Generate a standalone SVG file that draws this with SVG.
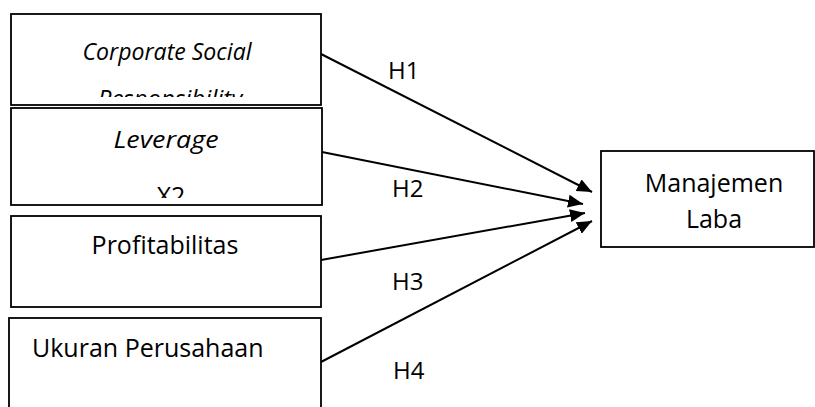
<svg xmlns="http://www.w3.org/2000/svg" width="815" height="407" viewBox="0 0 815 407">
  <style>
    .box { fill: #ffffff; stroke: #000000; stroke-width: 1.8; }
    .t { font-family: "Open Sans", "Noto Sans", sans-serif; font-size: 25px; fill: #000000; }
    .lbl { font-size: 24px; }
    .it { font-style: italic; font-size: 24px; }
    .mid { text-anchor: middle; }
    .conn { stroke: #000000; stroke-width: 2; fill: none; marker-end: url(#arrow); }
  </style>
  <defs>
    <marker id="arrow" markerUnits="userSpaceOnUse" markerWidth="16" markerHeight="14" refX="15" refY="6.5" orient="auto">
      <path d="M0,0 L15,6.5 L0,13 Z" fill="#000000"/>
    </marker>
    <clipPath id="clip1"><rect x="11" y="14" width="310" height="83"/></clipPath>
    <clipPath id="clip2"><rect x="11" y="108" width="311" height="90"/></clipPath>
  </defs>

  <rect width="815" height="407" fill="#ffffff"/>

  <g id="connectors">
    <line class="conn" x1="321" y1="54" x2="592" y2="192"/>
    <line class="conn" x1="322" y1="152" x2="583" y2="204"/>
    <line class="conn" x1="321" y1="260" x2="585" y2="213"/>
    <line class="conn" x1="321" y1="362" x2="592" y2="221"/>
    <text class="t lbl" x="388" y="79">H1</text>
    <text class="t lbl" x="392" y="197">H2</text>
    <text class="t lbl" x="392" y="290">H3</text>
    <text class="t lbl" x="393" y="379">H4</text>
  </g>

  <g id="csr">
    <rect class="box" x="11" y="14" width="310" height="91"/>
    <g clip-path="url(#clip1)">
      <text class="t it mid" x="167" y="60" textLength="169" lengthAdjust="spacingAndGlyphs">Corporate Social</text>
      <text class="t it mid" x="170" y="107">Responsibility</text>
    </g>
  </g>

  <g id="leverage">
    <rect class="box" x="11" y="108" width="311" height="97"/>
    <g clip-path="url(#clip2)">
      <text class="t it mid" x="166" y="148" textLength="105" lengthAdjust="spacingAndGlyphs">Leverage</text>
      <text class="t mid" x="171" y="205">X2</text>
    </g>
  </g>

  <g id="profitabilitas">
    <rect class="box" x="11" y="216" width="310" height="91"/>
    <text class="t mid" x="165" y="254">Profitabilitas</text>
  </g>

  <g id="ukuran">
    <rect class="box" x="9" y="318" width="312" height="110"/>
    <text class="t" x="32" y="357">Ukuran Perusahaan</text>
  </g>

  <g id="manajemen">
    <rect class="box" x="601" y="151" width="213" height="96"/>
    <text class="t mid" x="714" y="192">Manajemen</text>
    <text class="t mid" x="714" y="228">Laba</text>
  </g>
</svg>
